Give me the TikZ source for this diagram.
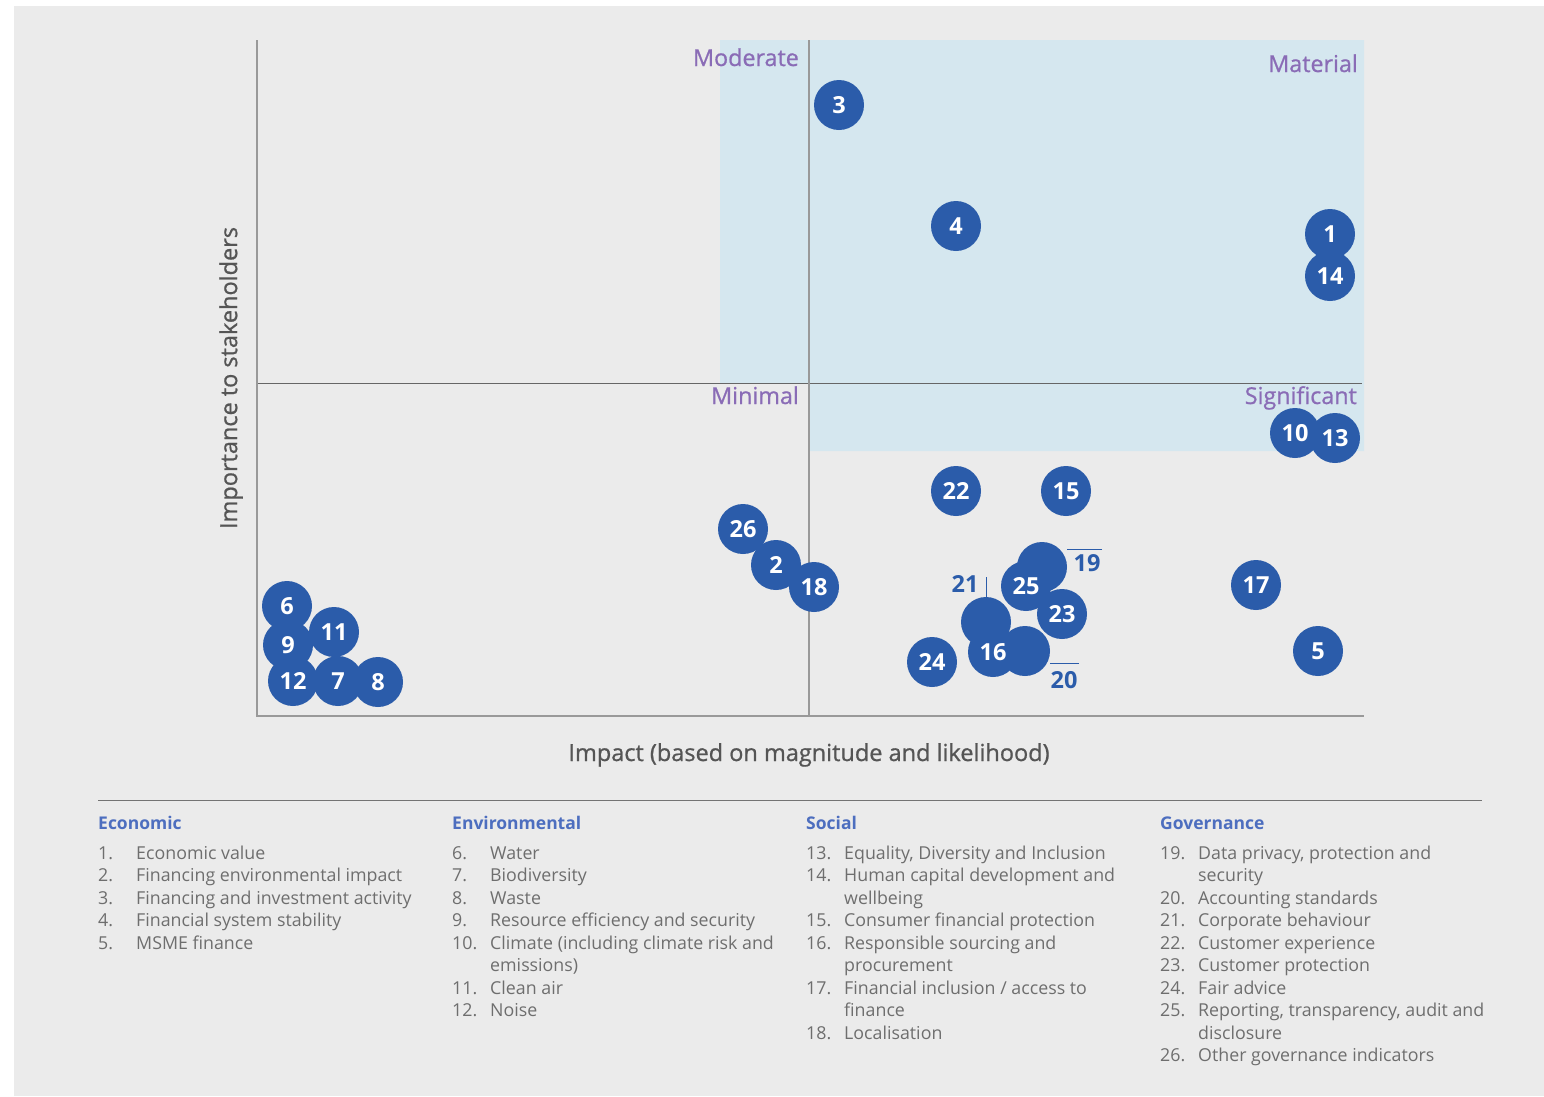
\documentclass[tikz,border=0pt]{standalone}
\usepackage{fontspec}
\setmainfont{Open Sans}
\newfontfamily\medfont[FakeBold=0.8]{Open Sans}
\definecolor{bggray}{HTML}{EBEBEB}
\definecolor{lblue}{HTML}{D5E7EF}
\definecolor{bubblue}{HTML}{2B5CAA}
\definecolor{quadpurple}{HTML}{8A6CB6}
\definecolor{headblue}{HTML}{4D6EBF}
\definecolor{legtext}{HTML}{6E6E6E}
\definecolor{axtext}{HTML}{555555}
\begin{document}
\begin{tikzpicture}[x=1pt,y=-1pt,
  axisline/.style={draw=black!40,line width=1.6pt},
  midline/.style={draw=black!60,line width=0.9pt},
  quad/.style={text=quadpurple,font=\medfont\fontsize{23.3}{26}\selectfont,inner sep=0pt,anchor=base east},
  bub/.style={circle,fill=bubblue,minimum size=50pt,inner sep=0pt},
  num/.style={text=white,font=\fontsize{23.5}{25}\selectfont\bfseries,inner sep=0pt},
  outnum/.style={text=bubblue,font=\fontsize{23.5}{25}\selectfont\bfseries,inner sep=0pt},
  lead/.style={draw=bubblue,line width=0.9pt},
  axtitle/.style={text=axtext,font=\medfont\fontsize{23.5}{26}\selectfont,inner sep=0pt},
  head/.style={text=headblue,font=\fontsize{17.5}{20}\selectfont\bfseries,inner sep=0pt,anchor=base west},
  leg/.style={text=legtext,font=\fontsize{17.8}{20}\selectfont,inner sep=0pt,anchor=base west}]
\useasboundingbox (0,0) rectangle (1544,1096);
\fill[bggray] (14,6) rectangle (1544,1096);
\fill[lblue] (720,40) -- (1364,40) -- (1364,451) -- (809,451) -- (809,383) -- (720,383) -- cycle;
\draw[midline] (258,383) -- (1362,383);
\draw[axisline] (809,40) -- (809,716);
\draw[axisline] (257,40) -- (257,716) -- (1364,716);
% quadrant labels
\node[quad] (qmod) at (799,66) {Moderate};
\node[quad] (qmat) at (1358,72) {Material};
\node[quad] (qmin) at (799,404) {Minimal};
\node[quad] (qsig) at (1357,404) {Significant};
% axis titles
\node[axtitle,anchor=base] (xt) at (809,761) {Impact (based on magnitude and likelihood)};
\node[axtitle,rotate=90] (yt) at (231,378) {Importance to stakeholders};
% leader lines and outside labels
\coordinate (e19) at (1102,549);
\coordinate (e20) at (1079,663);
\coordinate (e21) at (986,577);
\node[bub] (b19) at (1042,567) {};
\node[bub] (b20) at (1025,651) {};
\node[bub] (b21) at (986,622) {};
\draw[lead] (e19) -- (e19 -| b19.east);
\draw[lead] (e20) -- (e20 -| b20.east);
\draw[lead] (e21) -- (b21.north);
\node[outnum] (l19) at (1087,563) {19};
\node[outnum] (l20) at (1064,680) {20};
\node[outnum] (l21) at (965,584) {21};
% bubbles
\foreach \n/\x/\y in {3/839/105,4/956/226,1/1330/234,14/1330/276,10/1295/433,13/1335/438,
  22/956/491,15/1066/491,26/743/529,2/776/565,18/814/587,6/287/606,9/288/645,11/334/632,
  12/293/681,7/338/681,8/378/682,17/1256/585,5/1318/651,25/1026/586,23/1062/614,
  16/993/652,24/932/662}
  \node[bub] (b\n) at (\x,\y) {};
\foreach \n in {3,4,1,14,10,13,22,15,26,2,18,6,9,11,12,7,8,17,5,25,23,16,24}
  \node[num] (t\n) at (b\n) {\n};
% legend
\draw[draw=black!55,line width=0.9pt] (98,800) -- (1482,800);
\node[head] (h1) at (98,829) {Economic};
\node[head] (h2) at (452,829) {Environmental};
\node[head] (h3) at (806,829) {Social};
\node[head] (h4) at (1160,829) {Governance};
\foreach \c/\r/\n/\t in {
  98/1/1./Economic value, 98/2/2./Financing environmental impact,
  98/3/3./Financing and investment activity, 98/4/4./Financial system stability,
  98/5/5./MSME finance,
  452/1/6./Water, 452/2/7./Biodiversity, 452/3/8./Waste,
  452/4/9./Resource efficiency and security,
  452/5/10./Climate (including climate risk and, 452/6//emissions),
  452/7/11./Clean air, 452/8/12./Noise,
  806/1/13./{Equality, Diversity and Inclusion}, 806/2/14./Human capital development and,
  806/3//wellbeing, 806/4/15./Consumer financial protection,
  806/5/16./Responsible sourcing and, 806/6//procurement,
  806/7/17./{Financial inclusion / access to}, 806/8//finance, 806/9/18./Localisation,
  1160/1/19./{Data privacy, protection and}, 1160/2//security,
  1160/3/20./Accounting standards, 1160/4/21./Corporate behaviour,
  1160/5/22./Customer experience, 1160/6/23./Customer protection,
  1160/7/24./Fair advice, 1160/8/25./{Reporting, transparency, audit and},
  1160/9//disclosure, 1160/10/26./Other governance indicators}
{
  \node[leg] (n\c-\r) at (\c,{859+22.5*(\r-1)}) {\n};
  \node[leg] (x\c-\r) at (\c+38,{859+22.5*(\r-1)}) {\t};
}
\end{tikzpicture}
\end{document}
